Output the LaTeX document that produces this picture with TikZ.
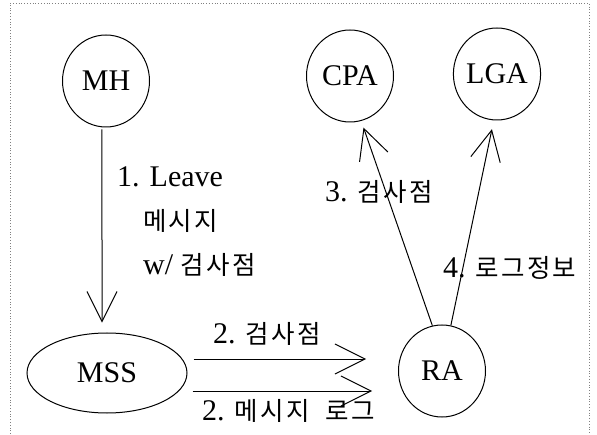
\documentclass[tikz,border=0pt]{standalone}
\usepackage{fontspec}
\usetikzlibrary{arrows.meta,shapes.geometric}
\setmainfont{Liberation Serif}
\newfontfamily\krfont[LetterSpace=9]{Noto Sans CJK KR}
\newcommand{\kr}[1]{{\krfont\fontsize{25.5}{44}\selectfont #1}}

\tikzset{
  ent/.style={draw, ellipse, line width=1pt, inner sep=0pt,
    minimum width=87pt, minimum height=92pt, font=\fontsize{30}{36}\selectfont},
  arr/.style={line width=1pt, -{Straight Barb[length=30pt,width=30pt]}},
  lbl/.style={anchor=base west, inner sep=0pt, font=\fontsize{30}{44}\selectfont},
  frame/.style={gray, dotted, line width=0.8pt}
}

\begin{document}
\begin{tikzpicture}[x=1pt,y=1pt]
    \useasboundingbox (0,0) rectangle (597,434);
    % Frame, open at the bottom
    \draw[frame] (10,0) -- (10,431) -- (589,431) -- (589,0);

    % Agents
    \node[ent] (MH) at (106,353) {MH};
    \node[ent] (CPA) at (350,358) {CPA};
    \node[ent] (LGA) at (497,360) {LGA};
    \node[ent] (RA) at (442,63) {RA};
    \node[ent, minimum width=160pt, minimum height=80pt] (MSS) at (107,61) {MSS};

    % Messages
    \draw[arr, shorten <=2pt, shorten >=10pt] (MH.-95) -- (MSS.97);
    \draw[arr] ([shift={(6,14)}]MSS.east) -- ([shift={(-32,12)}]RA.west);
    \draw[arr] ([shift={(5,-18)}]MSS.east) -- ([shift={(-26,-20)}]RA.west);
    \draw[arr, shorten >=7pt] (RA.102) -- (CPA.-76);
    \draw[arr, shorten >=9pt] (RA.79) -- (LGA.-94);

    % Labels
    \node[lbl, anchor=north west, align=left] (leave) at (117,268)
        {1. Leave\\\hspace*{26pt}\kr{메시지}\\\hspace*{26pt}w/ \kr{검사점}};
    \node[lbl] (cpmsg) at (213,91) {2. \kr{검사점}};
    \node[lbl] (logmsg) at (202,14) {2. \kr{메시지}\hspace{16pt}\kr{로그}};
    \node[lbl] (cplbl) at (325,232) {3. \kr{검사점}};
    \node[lbl] (loglbl) at (443,156) {4. \kr{로그정보}};
\end{tikzpicture}
\end{document}
